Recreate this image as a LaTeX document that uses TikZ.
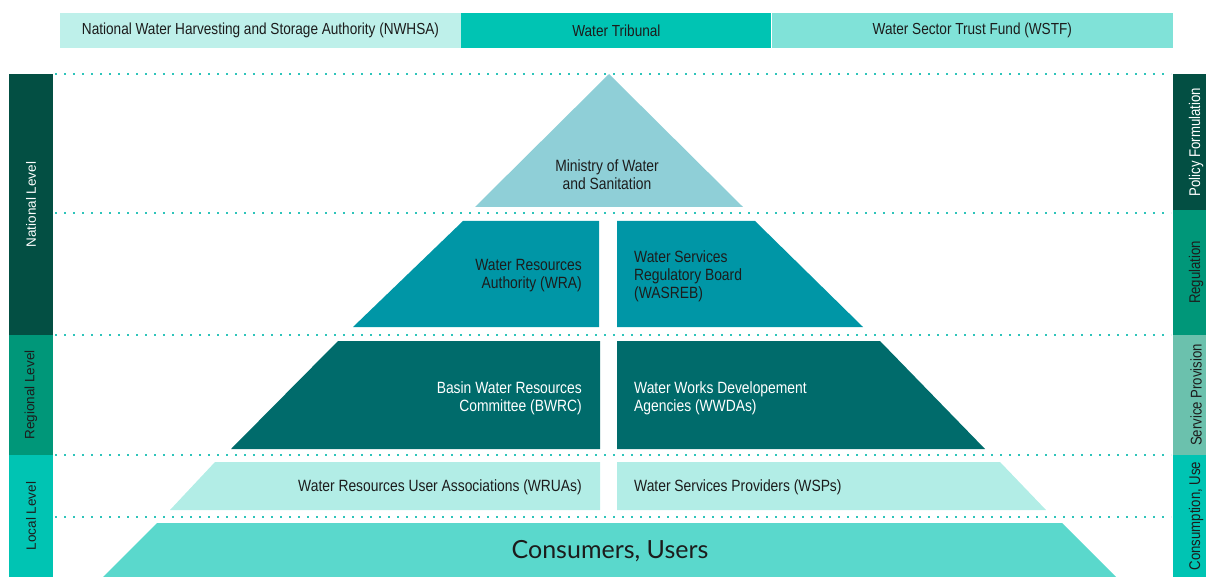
\documentclass[tikz,border=0pt]{standalone}
\usepackage{fontspec}
\setmainfont{Liberation Sans}
\newfontfamily\condfont[FakeStretch=0.85]{Liberation Sans}
\newfontfamily\roundfont{Lato}
\usetikzlibrary{positioning}
\definecolor{Ink}{HTML}{1C1C1C}
\definecolor{DarkGreen}{HTML}{034F43}
\definecolor{MidGreen}{HTML}{009779}
\definecolor{Teal}{HTML}{00C4B3}
\definecolor{Sage}{HTML}{6BC1AD}
\definecolor{PaleCyan}{HTML}{BEF0EA}
\definecolor{Aqua}{HTML}{80E2D8}
\definecolor{SkyBlue}{HTML}{8FCFD7}
\definecolor{Petrol}{HTML}{0096A6}
\definecolor{DeepTeal}{HTML}{006B6B}
\definecolor{Mint}{HTML}{B2EDE6}
\definecolor{Turq}{HTML}{5AD8CC}
\definecolor{Dots}{HTML}{2EC4BA}

\begin{document}
\begin{tikzpicture}[x=1pt,y=-1pt,
    bar/.style={inner sep=0pt,minimum height=35pt,text=Ink,font=\condfont\fontsize{16}{18}\selectfont},
    side/.style={rotate=90,inner sep=0pt,minimum height=44pt,font=\fontsize{13.5}{15}\selectfont},
    tag/.style={rotate=90,inner sep=0pt,minimum height=46pt,text=Ink,font=\condfont\fontsize{15.5}{17}\selectfont},
    lbl/.style={inner sep=0pt,text=Ink,font=\condfont\fontsize{16.3}{18}\selectfont},
    dots/.style={Dots,line width=1.8pt,dash pattern=on 1.8pt off 7.2pt}]
  \useasboundingbox (0,0) rectangle (1206,577);
  % bodies across the top
  \node[bar,fill=PaleCyan,minimum width=401pt] (nwhsa) at (260.5,30.5) {National Water Harvesting and Storage Authority (NWHSA)};
  \node[bar,fill=Teal,minimum width=310pt,right=0pt of nwhsa] (tribunal) {Water Tribunal};
  \node[bar,fill=Aqua,minimum width=401pt,right=0pt of tribunal] (wstf) {Water Sector Trust Fund (WSTF)};
  % levels and functions
  \node[side,fill=DarkGreen,text=white,minimum width=261pt] (national) at (31,204.5) {National Level};
  \node[side,fill=MidGreen,text=Ink,minimum width=120pt] (regional) at (31,395) {Regional Level};
  \node[side,fill=Teal,text=Ink,minimum width=122pt] (local) at (31,516) {Local Level};
  \node[tag,fill=DarkGreen,text=white,minimum width=136pt] (policy) at (1196,142) {Policy Formulation};
  \node[tag,fill=MidGreen,minimum width=125pt] (regulation) at (1196,272.5) {Regulation};
  \node[tag,fill=Sage,minimum width=120pt] (service) at (1196,395) {Service Provision};
  \node[tag,fill=Teal,minimum width=122pt] (use) at (1196,516) {Consumption, Use};
  \foreach \y in {74,213,335,455,517}{\draw[dots] (55,\y) -- (1171,\y);}
  % pyramid
  \fill[SkyBlue] (609,74) -- (743,207) -- (475,207) -- cycle;
  \fill[Petrol] (463,221) -- (599,221) -- (599,327) -- (353,327) -- cycle;
  \fill[Petrol] (617,221) -- (755,221) -- (863,327) -- (617,327) -- cycle;
  \fill[DeepTeal] (338,341) -- (600,341) -- (600,449) -- (231,449) -- cycle;
  \fill[DeepTeal] (617,341) -- (880,341) -- (985,449) -- (617,449) -- cycle;
  \fill[Mint] (215,462) -- (600,462) -- (600,510) -- (170,510) -- cycle;
  \fill[Mint] (617,462) -- (1000,462) -- (1046,510) -- (617,510) -- cycle;
  \fill[Turq] (157,523) -- (1062,523) -- (1116,577) -- (103,577) -- cycle;
  \node[lbl,align=center] (ministry) at (607,175) {Ministry of Water\\and Sanitation};
  \node[lbl,align=right,anchor=east] (wra) at (582,276) {Water Resources\\Authority (WRA)};
  \node[lbl,align=left,anchor=west] (wasreb) at (634,276) {Water Services\\Regulatory Board\\(WASREB)};
  \node[lbl,align=right,anchor=east,text=white] (bwrc) at (582,398) {Basin Water Resources\\Committee (BWRC)};
  \node[lbl,align=left,anchor=west,text=white] (wwda) at (634,398) {Water Works Developement\\Agencies (WWDAs)};
  \node[lbl,anchor=east] (wrua) at (582,487) {Water Resources User Associations (WRUAs)};
  \node[lbl,anchor=west] (wsp) at (634,487) {Water Services Providers (WSPs)};
  \node[text=Ink,font=\roundfont\fontsize{25}{28}\selectfont] (users) at (610,551) {Consumers, Users};
\end{tikzpicture}
\end{document}
